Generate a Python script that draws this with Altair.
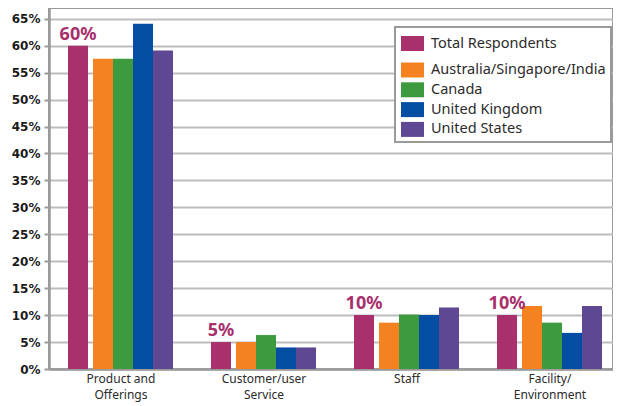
import json
import altair as alt
import pandas as pd

# ---- data ----
category_lines = [["Product and", "Offerings"], ["Customer/user", "Service"], ["Staff"], ["Facility/", "Environment"]]
series = ["Total Respondents", "Australia/Singapore/India", "Canada", "United Kingdom", "United States"]
total = [60.0, 5.0, 10.0, 10.0]
aus_sg_in = [57.6, 5.0, 8.6, 11.7]
canada = [57.6, 6.3, 10.1, 8.6]
uk = [64.1, 4.0, 10.0, 6.7]
us = [59.1, 4.0, 11.4, 11.7]
colors = ["#A8306C", "#F58220", "#3E9A3E", "#034EA2", "#5E4793"]
y_ticks = [0, 5, 10, 15, 20, 25, 30, 35, 40, 45, 50, 55, 60, 65]

values = [total, aus_sg_in, canada, uk, us]

# ---- layout constants (pixels per category group, bar width, gap after Total bar) ----
GROUP = 143.0
BAR = 20.0
GAP = 5.0
PLOT_W = 564
PLOT_H = 361
group_span = BAR * len(series) + GAP

rows = []
for i in range(len(category_lines)):
    for k, s in enumerate(series):
        off = -group_span / 2 + BAR * k + (GAP if k > 0 else 0)
        x0 = i + off / GROUP
        x1 = x0 + BAR / GROUP
        v = values[k][i]
        rows.append({
            "cat": i, "series": s, "value": v,
            "x0": x0, "x1": x1, "xc": (x0 + x1) / 2,
            "label": f"{round(v):d}%",
        })
df = pd.DataFrame(rows)

label_expr = json.dumps(category_lines) + "[datum.value]"

xs = alt.Scale(domain=[-0.5, -0.5 + PLOT_W / GROUP], nice=False, zero=False)
ys = alt.Scale(domain=[0, 67.0], nice=False, zero=True)

x_axis = alt.Axis(values=list(range(len(category_lines))), labelExpr=label_expr, title=None,
                  ticks=False, grid=False, domainColor="#9a9a9a", domainWidth=2.5,
                  labelFont="Noto Sans", labelFontSize=12, labelColor="#2b2b2b",
                  labelLineHeight=16, labelPadding=4, labelOverlap=False, labelFlush=False,
                  labelBaseline="top")
y_axis = alt.Axis(values=y_ticks, labelExpr="datum.value + '%'", title=None,
                  labelFont="DejaVu Sans", labelFontWeight="bold", labelFontSize=12,
                  labelColor="#1a1a1a", tickColor="#9a9a9a", tickSize=5, tickWidth=2,
                  domainColor="#9a9a9a", domainWidth=2.5, gridColor="#bdbdbd", gridWidth=2,
                  labelPadding=4, labelOverlap=False, labelFlush=False)

rect_sym = "M-1.533,-1L1.533,-1L1.533,1L-1.533,1Z"
common_leg = dict(orient="none", legendX=356, padding=0, symbolType=rect_sym, symbolSize=225,
                  symbolStrokeWidth=0, symbolOpacity=1, labelFont="Noto Sans", labelFontSize=14.5,
                  labelColor="#2b2b2b", labelOffset=11, labelLimit=400, title=None)
leg1 = alt.Legend(legendY=28, **common_leg)
leg2 = alt.Legend(legendY=54.5, rowPadding=3.8, **common_leg)

base = alt.Chart(df)

total_bars = base.transform_filter(alt.datum.series == series[0]).mark_bar().encode(
    x=alt.X("x0:Q", scale=xs, axis=x_axis),
    x2="x1:Q",
    y=alt.Y("value:Q", scale=ys, axis=y_axis),
    y2=alt.datum(0),
    color=alt.Color("series:N", scale=alt.Scale(domain=[series[0]], range=[colors[0]]), legend=leg1),
)

country_bars = base.transform_filter(alt.datum.series != series[0]).mark_bar().encode(
    x=alt.X("x0:Q", scale=xs, axis=x_axis),
    x2="x1:Q",
    y=alt.Y("value:Q", scale=ys, axis=y_axis),
    y2=alt.datum(0),
    color=alt.Color("series:N", scale=alt.Scale(domain=series[1:], range=colors[1:]), legend=leg2),
)

labels = base.transform_filter(alt.datum.series == series[0]).mark_text(
    font="Noto Sans", fontWeight="bold", fontSize=18, color=colors[0],
    align="center", baseline="alphabetic", dy=-6,
).encode(
    x=alt.X("xc:Q", scale=xs, axis=x_axis),
    y=alt.Y("value:Q", scale=ys, axis=y_axis),
    text="label:N",
)

box = alt.Chart(pd.DataFrame({"k": [0]})).mark_rect(
    fill="white", stroke="#9a9a9a", strokeWidth=2
).encode(
    x=alt.value(346), x2=alt.value(562), y=alt.value(19), y2=alt.value(134)
)

chart = alt.layer(box, total_bars, country_bars, labels).resolve_scale(
    color="independent"
).properties(
    width=PLOT_W, height=PLOT_H,
    autosize=alt.AutoSizeParams(type="none"),
    padding={"left": 41, "top": 0, "right": 0, "bottom": 36},
).configure_view(stroke="#9a9a9a", strokeWidth=2)

chart.save("out.html", embed_options={"renderer": "svg", "actions": False})
